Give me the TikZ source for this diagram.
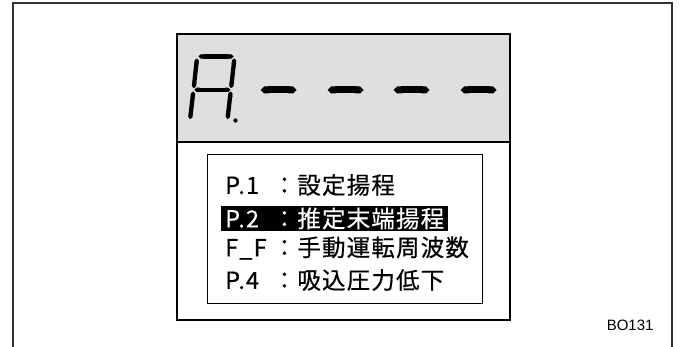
\documentclass[tikz,border=0pt]{standalone}
\usepackage{fontspec}
\setmainfont{Noto Sans CJK JP}
\newfontfamily\codefont{Liberation Sans}
\usetikzlibrary{arrows.meta, positioning}

\newcommand{\menukey}[1]{\makebox[47.5pt][l]{#1}}

\begin{document}
\begin{tikzpicture}[
    x=1pt, y=-1pt,
    frame/.style={line width=1.3pt, black!80},
    lcdpanel/.style={draw, line width=1.8pt, fill=gray!25},
    menupanel/.style={draw, line width=1.8pt, fill=white},
    seg/.style={line width=4.3pt, {Triangle Cap[]}-{Triangle Cap[]}},
    bar/.style={line width=7pt, {Triangle Cap[]}-{Triangle Cap[]}},
    menuline/.style={anchor=west, inner xsep=4pt, inner ysep=0pt, minimum height=25pt,
        font=\fontsize{23.5}{25}\selectfont\addfontfeature{LetterSpace=5, FakeBold=0.5}},
    selected/.style={menuline, fill=black, text=white}
]
\useasboundingbox (0,0) rectangle (680,347);

% Outer frame (open at the bottom)
\draw[frame] (13,347) -- (13,3) -- (672,3) -- (672,347);

% Display unit
\draw[menupanel] (177,34) rectangle (510,320);
\draw[lcdpanel] (177,34) rectangle (510,142);

% Seven-segment "A."
\draw[seg] (198.5,56.5) -- (233.6,56.5);
\draw[seg] (197,58.4) -- (193.7,88.2);
\draw[seg] (234.4,58.4) -- (231.1,88.2);
\draw[seg] (194.4,89.8) -- (230.3,89.8);
\draw[seg] (193.3,91.4) -- (190.1,119.2);
\draw[seg] (230.7,91.4) -- (227.5,119.2);
\fill (235.5,120.5) circle (2.2);

% Dashes
\foreach \x in {260,327,393,460}
    \draw[bar] (\x+0.5,90) -- (\x+36.5,90);

% Menu
\draw[line width=1pt] (207,155) rectangle (482,304);
\node[menuline] (p1) at (221,185) {\menukey{P.1}：設定揚程};
\node[selected] (p2) at (221,218.5) {\menukey{P.2}：推定末端揚程};
\node[menuline] (ff) at (221,248) {\menukey{F\_F}：手動運転周波数};
\node[menuline] (p4) at (221,280) {\menukey{P.4}：吸込圧力低下};

% Figure code
\node[font=\codefont\fontsize{15}{17}\selectfont, anchor=east] (code) at (657,325) {BO131};

\end{tikzpicture}
\end{document}
